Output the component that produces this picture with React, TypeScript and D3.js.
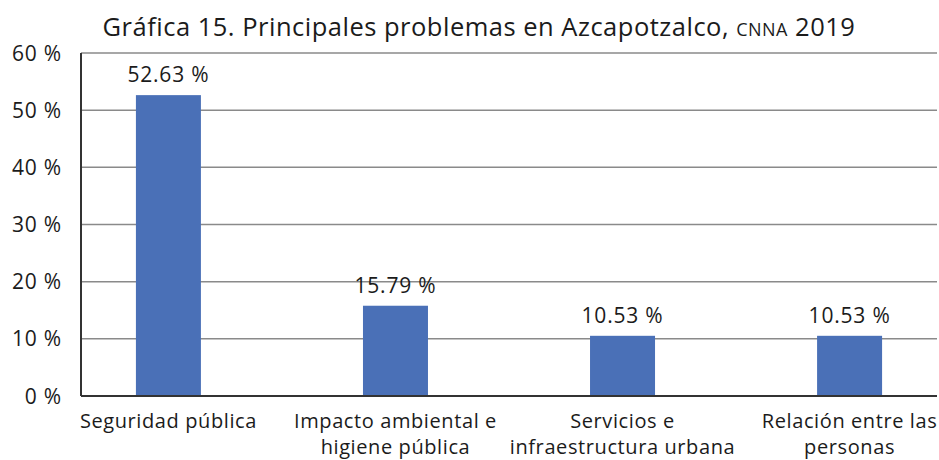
import React from 'react';
import * as d3 from 'd3';

const WIDTH = 939;
const HEIGHT = 460;
const MARGIN = { top: 53, right: 2, bottom: 64, left: 81 };

const CATEGORIES = [
  'Seguridad pública',
  'Impacto ambiental e higiene pública',
  'Servicios e infraestructura urbana',
  'Relación entre las personas',
];
const CATEGORY_LINES = [
  ['Seguridad pública'],
  ['Impacto ambiental e', 'higiene pública'],
  ['Servicios e', 'infraestructura urbana'],
  ['Relación entre las', 'personas'],
];
const VALUES = [52.63, 15.79, 10.53, 10.53];
const Y_TICKS = [0, 10, 20, 30, 40, 50, 60];

const FONT = '"Open Sans", "Noto Sans", sans-serif';
const BAR_COLOR = '#4a70b7';
const TEXT_COLOR = '#1b1b1b';

export default function App() {
  const innerBottom = HEIGHT - MARGIN.bottom;
  const innerRight = WIDTH - MARGIN.right;

  const y = d3.scaleLinear().domain([0, 60]).range([innerBottom, MARGIN.top]);
  const x = d3
    .scalePoint<string>()
    .domain(CATEGORIES)
    .range([MARGIN.left, innerRight])
    .padding(0.385);
  const barWidth = 65;

  return (
    <svg
      width={WIDTH}
      height={HEIGHT}
      style={{ position: 'absolute', left: 0, top: 0, background: '#fff' }}
      fontFamily={FONT}
    >
      <rect width={WIDTH} height={HEIGHT} fill="#fff" />
      <text
        x={479}
        y={36}
        textAnchor="middle"
        fontSize={25.5}
        letterSpacing={0.5}
        fill={TEXT_COLOR}
      >
        Gráfica 15. Principales problemas en Azcapotzalco,{' '}
        <tspan fontSize={18}>CNNA</tspan> 2019
      </text>

      {Y_TICKS.map((t) => (
        <g key={`yt-${t}`}>
          {t > 0 && (
            <line
              x1={MARGIN.left}
              x2={innerRight}
              y1={y(t)}
              y2={y(t)}
              stroke="#8a8a8a"
              strokeWidth={1.5}
            />
          )}
          <text
            x={62}
            y={y(t) + 7.5}
            textAnchor="end"
            fontSize={21}
            letterSpacing={0.8}
            fill={TEXT_COLOR}
          >
            {t} %
          </text>
        </g>
      ))}

      {CATEGORIES.map((c, i) => {
        const cx = x(c) ?? 0;
        return (
          <g key={c}>
            <rect
              x={cx - barWidth / 2}
              y={y(VALUES[i])}
              width={barWidth}
              height={innerBottom - y(VALUES[i])}
              fill={BAR_COLOR}
            />
            <text
              x={cx}
              y={y(VALUES[i]) - 13}
              textAnchor="middle"
              fontSize={21}
              letterSpacing={0.8}
              fill={TEXT_COLOR}
            >
              {VALUES[i].toFixed(2)} %
            </text>
            {CATEGORY_LINES[i].map((line, j) => (
              <text
                key={line}
                x={cx}
                y={428 + j * 26}
                textAnchor="middle"
                fontSize={20}
                letterSpacing={0.6}
                fill={TEXT_COLOR}
              >
                {line}
              </text>
            ))}
          </g>
        );
      })}

      <line
        x1={MARGIN.left}
        x2={MARGIN.left}
        y1={MARGIN.top}
        y2={innerBottom}
        stroke="#333"
        strokeWidth={2}
      />
      <line
        x1={MARGIN.left}
        x2={innerRight}
        y1={innerBottom}
        y2={innerBottom}
        stroke="#333"
        strokeWidth={2}
      />
    </svg>
  );
}
